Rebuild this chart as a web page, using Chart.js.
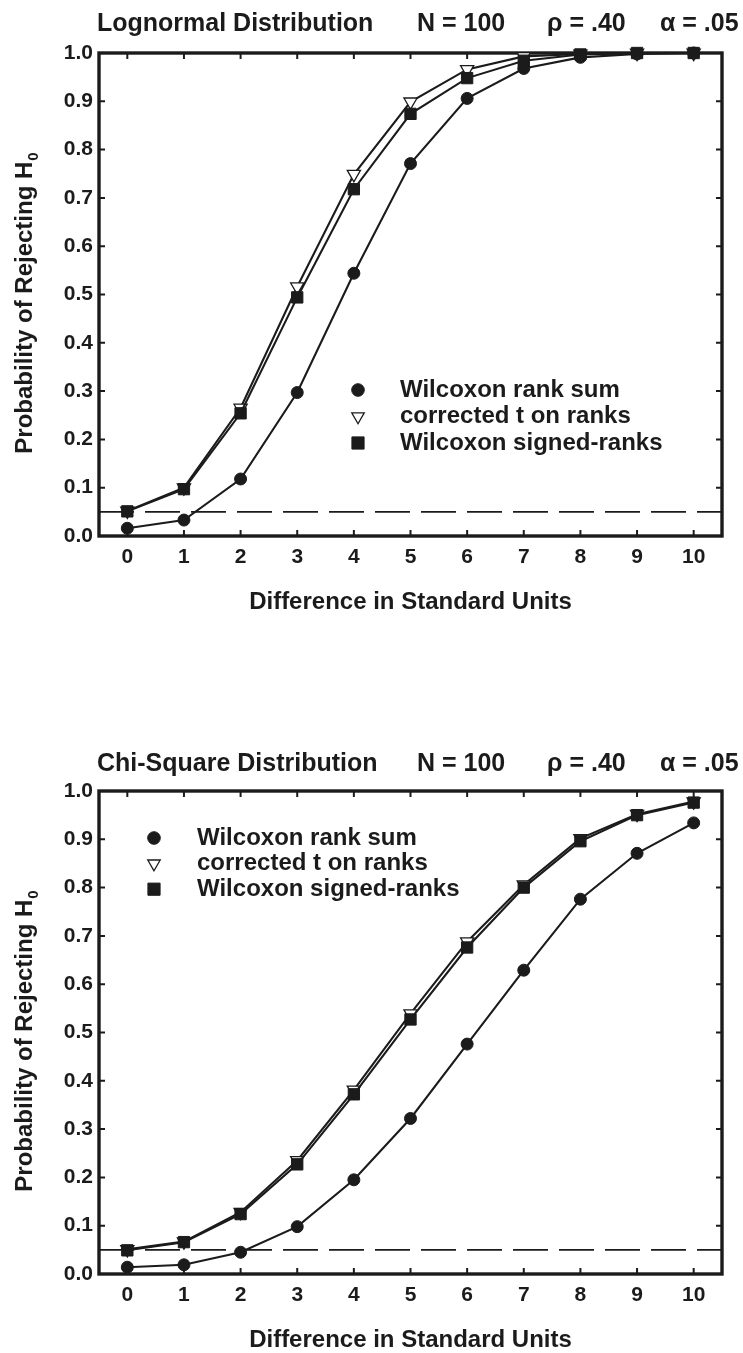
<!DOCTYPE html>
<html>
<head>
<meta charset="utf-8">
<script src="https://cdn.jsdelivr.net/npm/chart.js@4.4.1/dist/chart.umd.min.js"></script>
<style>
  html, body { margin: 0; padding: 0; background: #fff; }
  .panel { position: absolute; left: 0; width: 743px; }
  #lognormal-panel { top: 0; height: 676px; }
  #chisquare-panel { top: 676px; height: 677px; }
</style>
</head>
<body>
<div class="panel" id="lognormal-panel"><canvas id="lognormal-chart"></canvas></div>
<div class="panel" id="chisquare-panel"><canvas id="chisquare-chart"></canvas></div>
<script>
// Shift between groups, in standard units
const differences = [0, 1, 2, 3, 4, 5, 6, 7, 8, 9, 10];
const xTicks = [0, 1, 2, 3, 4, 5, 6, 7, 8, 9, 10];
const yTicks = [0, 0.1, 0.2, 0.3, 0.4, 0.5, 0.6, 0.7, 0.8, 0.9, 1.0];
const seriesNames = ["Wilcoxon rank sum", "corrected t on ranks", "Wilcoxon signed-ranks"];
const titleParts = ["N = 100", "\u03c1 = .40", "\u03b1 = .05"];
const alpha = 0.05;

// Lognormal distribution, power curves
const lognormalRankSum = [0.016, 0.033, 0.118, 0.297, 0.544, 0.771, 0.906, 0.968, 0.991, 0.998, 1.0];
const lognormalCorrectedT = [0.052, 0.100, 0.265, 0.516, 0.749, 0.899, 0.966, 0.993, 0.998, 1.0, 1.0];
const lognormalSignedRanks = [0.051, 0.097, 0.254, 0.494, 0.718, 0.874, 0.948, 0.984, 0.997, 1.0, 1.0];

// Chi-square distribution, power curves
const chiSquareRankSum = [0.014, 0.019, 0.045, 0.098, 0.195, 0.322, 0.476, 0.629, 0.776, 0.871, 0.934];
const chiSquareCorrectedT = [0.051, 0.067, 0.128, 0.235, 0.381, 0.539, 0.688, 0.806, 0.902, 0.952, 0.978];
const chiSquareSignedRanks = [0.049, 0.066, 0.124, 0.227, 0.372, 0.527, 0.676, 0.800, 0.896, 0.950, 0.976];

const INK = "#1b1b1b";
const FONT = "'Liberation Sans', Arial, sans-serif";
const X_MIN = -0.5;
const X_MAX = 10.5;

const markerStyles = [
  { pointStyle: "circle", radius: 6, legendRadius: 6.3, rotation: 0, fill: INK, borderWidth: 1 },
  { pointStyle: "triangle", radius: 7.6, legendRadius: 7.2, rotation: 180, fill: "#ffffff", borderWidth: 1.3 },
  { pointStyle: "rect", radius: 8, legendRadius: 8.6, rotation: 0, fill: INK, borderWidth: 1 },
];

function toPoints(values) {
  return differences.map((d, i) => ({ x: d, y: values[i] }));
}

function seriesDataset(values, index) {
  const m = markerStyles[index];
  return {
    label: seriesNames[index],
    data: toPoints(values),
    borderColor: INK,
    borderWidth: 2.1,
    tension: 0,
    pointStyle: m.pointStyle,
    pointRadius: m.radius,
    pointRotation: m.rotation,
    pointBackgroundColor: m.fill,
    pointBorderColor: INK,
    pointBorderWidth: m.borderWidth,
    clip: false,
    order: 3 - index,
  };
}

// frame, inward ticks, heading, rotated axis title and the legend
const decorPlugin = {
  id: "decor",
  beforeDatasetsDraw(chart) {
    const { ctx, chartArea: a, scales } = chart;
    const tick = 6;
    ctx.save();
    ctx.strokeStyle = INK;
    ctx.lineWidth = 2;
    ctx.beginPath();
    xTicks.forEach((v) => {
      const px = scales.x.getPixelForValue(v);
      ctx.moveTo(px, a.bottom);
      ctx.lineTo(px, a.bottom - tick);
      ctx.moveTo(px, a.top);
      ctx.lineTo(px, a.top + tick);
    });
    yTicks.slice(1, -1).forEach((v) => {
      const py = scales.y.getPixelForValue(v);
      ctx.moveTo(a.left, py);
      ctx.lineTo(a.left + tick, py);
      ctx.moveTo(a.right, py);
      ctx.lineTo(a.right - tick, py);
    });
    ctx.stroke();
    ctx.lineWidth = 3.4;
    ctx.strokeRect(a.left, a.top, a.right - a.left, a.bottom - a.top);
    ctx.restore();
  },
  afterDraw(chart, args, opts) {
    const { ctx, chartArea: a } = chart;
    ctx.save();
    ctx.fillStyle = INK;

    // heading line
    ctx.font = "bold 25px " + FONT;
    ctx.textBaseline = "alphabetic";
    ctx.textAlign = "left";
    ctx.fillText(opts.heading, a.left - 2, opts.headingY);
    titleParts.forEach((part, i) => {
      ctx.fillText(part, opts.partX[i], opts.headingY);
    });

    // y axis title with subscript
    const cy = (a.top + a.bottom) / 2 + 9;
    ctx.translate(25, cy);
    ctx.rotate(-Math.PI / 2);
    ctx.font = "bold 24px " + FONT;
    const main = "Probability of Rejecting H";
    const wMain = ctx.measureText(main).width;
    ctx.font = "bold 15px " + FONT;
    const wSub = ctx.measureText("0").width;
    const x0 = -(wMain + wSub) / 2;
    ctx.textBaseline = "middle";
    ctx.font = "bold 24px " + FONT;
    ctx.fillText(main, x0, 0);
    ctx.font = "bold 15px " + FONT;
    ctx.fillText("0", x0 + wMain + 1, 9);
    ctx.setTransform(1, 0, 0, 1, 0, 0);

    // legend
    const helpers = Chart.helpers;
    ctx.font = "bold 24px " + FONT;
    ctx.textBaseline = "middle";
    seriesNames.forEach((name, i) => {
      const y = opts.legendY + i * opts.legendGap;
      const m = markerStyles[i];
      ctx.fillStyle = m.fill;
      ctx.strokeStyle = INK;
      ctx.lineWidth = m.borderWidth;
      helpers.drawPoint(ctx, {
        pointStyle: m.pointStyle,
        rotation: m.rotation,
        radius: m.legendRadius,
        borderWidth: m.borderWidth,
      }, opts.legendMarkerX, y);
      ctx.fillStyle = INK;
      ctx.fillText(name, opts.legendTextX, y);
    });
    ctx.restore();
  },
};

function buildChart(canvasId, setup) {
  const ctx = document.getElementById(canvasId).getContext("2d");
  return new Chart(ctx, {
    type: "line",
    data: {
      datasets: [
        seriesDataset(setup.rankSum, 0),
        seriesDataset(setup.correctedT, 1),
        seriesDataset(setup.signedRanks, 2),
        {
          label: "alpha",
          data: [{ x: X_MIN, y: alpha }, { x: X_MAX, y: alpha }],
          borderColor: INK,
          borderWidth: 1.8,
          borderDash: [35, 11],
          pointRadius: 0,
          order: 4,
        },
      ],
    },
    options: {
      responsive: true,
      maintainAspectRatio: false,
      animation: false,
      events: [],
      layout: { padding: { top: setup.plotTop, right: 21, left: 0, bottom: 0 } },
      plugins: {
        legend: { display: false },
        tooltip: { enabled: false },
        decor: {
          heading: setup.heading,
          headingY: setup.headingY,
          partX: [417, 547, 660],
          legendMarkerX: setup.legendMarkerX,
          legendTextX: setup.legendTextX,
          legendY: setup.legendY,
          legendGap: setup.legendGap,
        },
      },
      scales: {
        x: {
          type: "linear",
          min: X_MIN,
          max: X_MAX,
          afterBuildTicks: (scale) => {
            scale.ticks = xTicks.map((v) => ({ value: v }));
          },
          afterFit: (scale) => {
            scale.height = setup.xAxisHeight;
          },
          grid: { display: false, drawTicks: false },
          border: { display: false },
          ticks: {
            color: INK,
            font: { family: FONT, size: 21, weight: "bold" },
            padding: 9,
            maxRotation: 0,
            autoSkip: false,
            callback: (v) => String(v),
          },
          title: {
            display: true,
            text: "Difference in Standard Units",
            color: INK,
            font: { family: FONT, size: 24, weight: "bold", lineHeight: 1 },
            padding: { top: 0, bottom: setup.xTitlePad },
          },
        },
        y: {
          type: "linear",
          min: 0,
          max: 1,
          afterBuildTicks: (scale) => {
            scale.ticks = yTicks.map((v) => ({ value: v }));
          },
          afterFit: (scale) => {
            scale.width = 99;
          },
          grid: { display: false, drawTicks: false },
          border: { display: false },
          ticks: {
            color: INK,
            font: { family: FONT, size: 21, weight: "bold" },
            padding: 6,
            callback: (v) => v.toFixed(1),
          },
        },
      },
    },
    plugins: [decorPlugin],
  });
}

buildChart("lognormal-chart", {
  heading: "Lognormal Distribution",
  headingY: 31,
  plotTop: 53,
  xAxisHeight: 140,
  xTitlePad: 62,
  rankSum: lognormalRankSum,
  correctedT: lognormalCorrectedT,
  signedRanks: lognormalSignedRanks,
  legendMarkerX: 358,
  legendTextX: 400,
  legendY: 390,
  legendGap: 26.5,
});

buildChart("chisquare-chart", {
  heading: "Chi-Square Distribution",
  headingY: 95,
  plotTop: 115,
  xAxisHeight: 79,
  xTitlePad: 1,
  rankSum: chiSquareRankSum,
  correctedT: chiSquareCorrectedT,
  signedRanks: chiSquareSignedRanks,
  legendMarkerX: 154,
  legendTextX: 197,
  legendY: 162,
  legendGap: 25.6,
});
</script>
</body>
</html>
